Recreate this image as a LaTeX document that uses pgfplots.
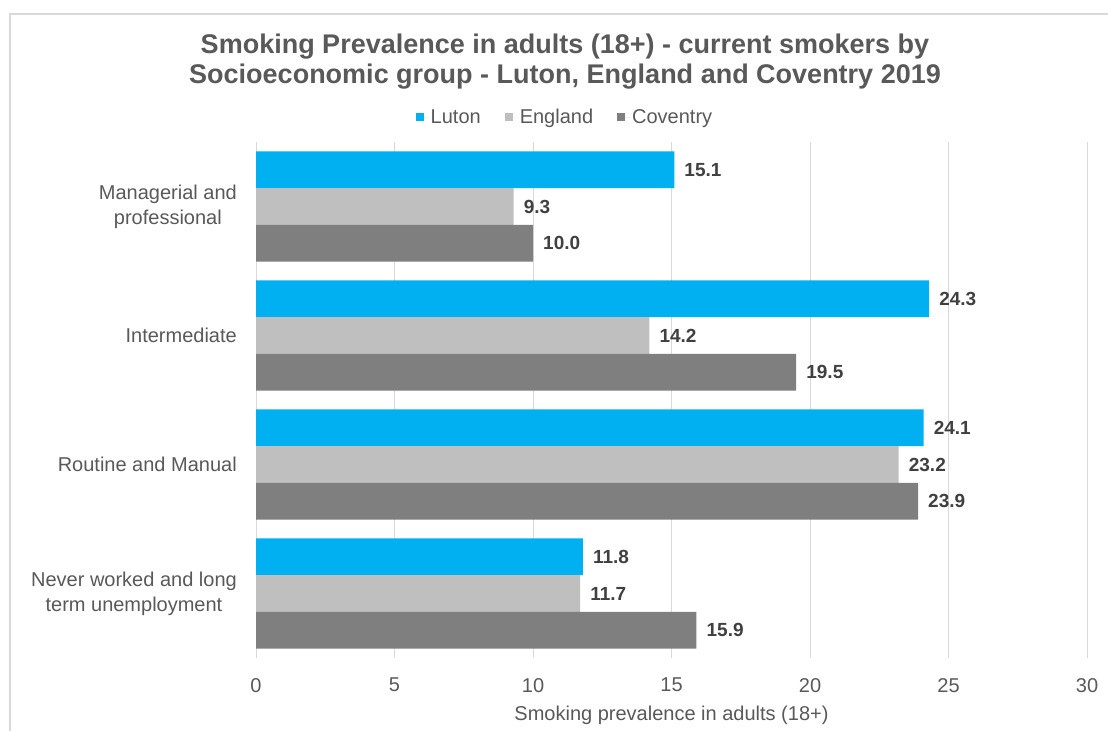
\documentclass[border=0pt]{standalone}
\usepackage{pgfplots}
\pgfplotsset{compat=1.18}
\usepackage{fontspec}
\setmainfont{Liberation Sans}

\definecolor{luton}{HTML}{00B0F0}
\definecolor{england}{HTML}{BFBFBF}
\definecolor{coventry}{HTML}{7F7F7F}
\definecolor{txtgrey}{HTML}{595959}
\definecolor{valgrey}{HTML}{404040}
\definecolor{gridgrey}{HTML}{D9D9D9}

\newcommand{\bodyfont}{\fontsize{20}{25}\selectfont}

\begin{document}
\begin{tikzpicture}[x=1pt,y=1pt]
\useasboundingbox (0pt,0pt) rectangle (1108pt,731pt);
\fill[white] (0pt,0pt) rectangle (1108pt,731pt);
% chart frame
\draw[gridgrey, line width=1.5pt] (10pt,0pt) -- (10pt,717pt) -- (1108pt,717pt);
% title
\node[font=\fontsize{27}{30}\selectfont\bfseries, text=txtgrey, align=center]
  at (565pt,669pt) {Smoking Prevalence in adults (18+) - current smokers by\\
  Socioeconomic group - Luton, England and Coventry 2019};

\begin{axis}[
  at={(256pt,73pt)}, anchor=south west,
  scale only axis, width=831pt, height=516pt,
  xmin=0, xmax=30, ymin=-0.5, ymax=3.5,
  xtick={0,5,...,30},
  ytick={0,1,2,3},
  yticklabels={{Never worked and long\\term unemployment},
               {Routine and Manual},
               {Intermediate},
               {Managerial and\\professional}},
  axis line style={draw=none},
  major tick length=0pt,
  xmajorgrids, major grid style={gridgrey, line width=1pt},
  /pgf/number format/assume math mode=true,
  tick label style={text=txtgrey, font=\bodyfont},
  yticklabel style={align=center, inner sep=0pt, xshift=-19pt},
  xticklabel style={inner sep=0pt, yshift=-20pt},
  xlabel={Smoking prevalence in adults (18+)},
  xlabel style={at={(axis description cs:0.5,0)}, anchor=center,
                yshift=-57pt, text=txtgrey, font=\bodyfont},
  xbar, bar width=36.7pt,
  point meta=x,
  nodes near coords={\pgfmathprintnumber[fixed, fixed zerofill, precision=1,
                     assume math mode=true]{\pgfplotspointmeta}},
  every node near coord/.append style={font=\fontsize{19}{23}\selectfont\bfseries,
                     text=valgrey, inner sep=0pt, anchor=west, xshift=10pt},
  legend columns=3,
  legend style={draw=none, fill=none, at={(0.3718,1.0484)}, anchor=center,
                font=\bodyfont, text=txtgrey,
                /tikz/every even column/.append style={column sep=22pt}},
  clip=false,
]
\addplot[fill=luton, draw=none, bar shift=36.7pt,
  legend image code/.code={\fill[luton] (0pt,-4pt) rectangle (8pt,4pt);
                           \path (8pt,0pt) -- (13pt,0pt);}]
  coordinates {(11.8,0) (24.1,1) (24.3,2) (15.1,3)};
\addlegendentry{Luton}
\addplot[fill=england, draw=none, bar shift=0pt,
  legend image code/.code={\fill[england] (0pt,-4pt) rectangle (8pt,4pt);
                           \path (8pt,0pt) -- (13pt,0pt);}]
  coordinates {(11.7,0) (23.2,1) (14.2,2) (9.3,3)};
\addlegendentry{England}
\addplot[fill=coventry, draw=none, bar shift=-36.7pt,
  legend image code/.code={\fill[coventry] (0pt,-4pt) rectangle (8pt,4pt);
                           \path (8pt,0pt) -- (13pt,0pt);}]
  coordinates {(15.9,0) (23.9,1) (19.5,2) (10.0,3)};
\addlegendentry{Coventry}
\end{axis}
\end{tikzpicture}
\end{document}
